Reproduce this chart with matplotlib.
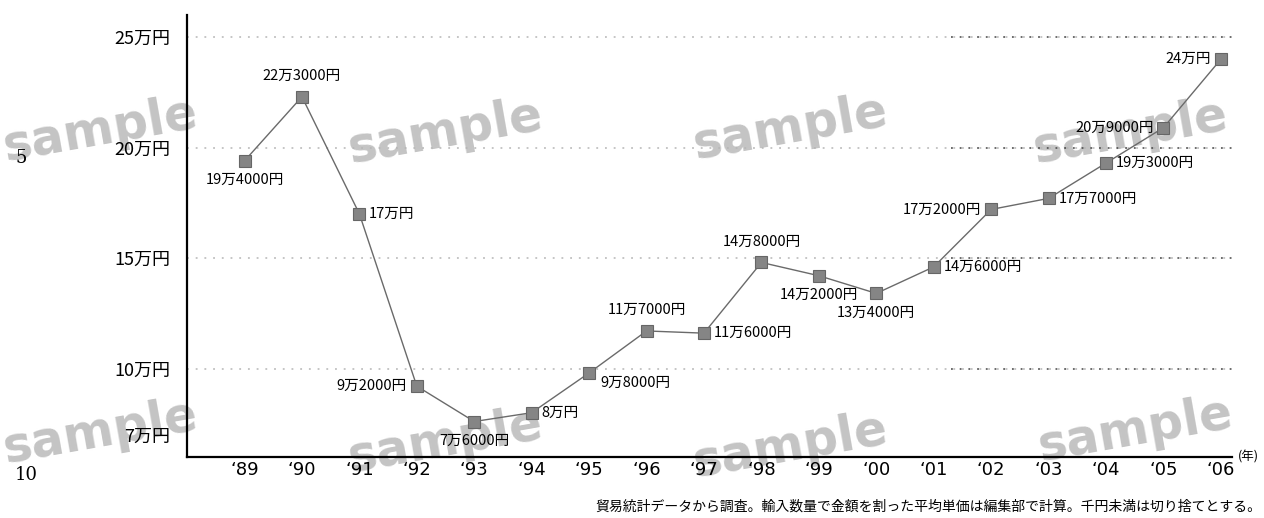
import matplotlib
matplotlib.use('Agg')
import matplotlib.pyplot as plt
import numpy as np

plt.rcParams['font.family'] = ['Noto Sans CJK JP', 'DejaVu Sans']

# average unit price per year (in 10,000 yen)
years = [1989, 1990, 1991, 1992, 1993, 1994, 1995, 1996, 1997,
         1998, 1999, 2000, 2001, 2002, 2003, 2004, 2005, 2006]
prices = [19.4, 22.3, 17.0, 9.2, 7.6, 8.0, 9.8, 11.7, 11.6,
          14.8, 14.2, 13.4, 14.6, 17.2, 17.7, 19.3, 20.9, 24.0]
price_labels = ['19万4000円', '22万3000円', '17万円', '9万2000円', '7万6000円',
                '8万円', '9万8000円', '11万7000円', '11万6000円', '14万8000円',
                '14万2000円', '13万4000円', '14万6000円', '17万2000円', '17万7000円',
                '19万3000円', '20万9000円', '24万円']
# where each value label sits relative to its marker
label_side = ['below', 'above', 'right', 'left', 'below', 'right', 'rbelow', 'above',
              'right', 'above', 'below', 'below', 'right', 'left', 'right',
              'right', 'left', 'left']
x_ticklabels = ['‘89', '‘90', '‘91', '‘92', '‘93', '‘94', '‘95', '‘96', '‘97',
                '‘98', '‘99', '‘00', '‘01', '‘02', '‘03', '‘04', '‘05', '‘06']
y_ticks = [7, 10, 15, 20, 25]
y_ticklabels = ['7万円', '10万円', '15万円', '20万円', '25万円']
grid_levels = [10, 15, 20, 25]

fig = plt.figure(figsize=(12.64, 5.18), dpi=100)
ax = fig.add_axes([0.148, 0.118, 0.827, 0.853])
ax.set_zorder(2)

# watermark, kept behind the axes
wm_pos = [(0.079, 0.748), (0.352, 0.744), (0.625, 0.752), (0.894, 0.744),
          (0.079, 0.165), (0.352, 0.148), (0.625, 0.138), (0.898, 0.170)]
for wx, wy in wm_pos:
    fig.text(wx, wy, 'sample', fontsize=35, fontweight='bold', color='#c4c4c4',
             rotation=10, ha='center', va='center', family='DejaVu Sans', zorder=1)

for g in grid_levels:
    ax.plot([1988, 2006.2], [g, g], color='#b5b5b5', lw=1.1,
            linestyle=(0, (1.2, 4.5)), zorder=1)
    ax.plot([2001.3, 2006.2], [g, g], color='#444444', lw=1.1,
            linestyle=(0, (1.2, 4.5)), zorder=1)

ax.plot(years, prices, color='#6a6a6a', lw=1.0, zorder=2)
ax.plot(years, prices, linestyle='none', marker='s', markersize=8.5,
        markerfacecolor='#858585', markeredgecolor='#666666', markeredgewidth=0.8,
        zorder=3)

fs = 10.5
for x, y, t, side in zip(years, prices, price_labels, label_side):
    if side == 'above':
        ax.annotate(t, (x, y), xytext=(0, 10), textcoords='offset points',
                    ha='center', va='bottom', fontsize=fs)
    elif side == 'below':
        ax.annotate(t, (x, y), xytext=(0, -9), textcoords='offset points',
                    ha='center', va='top', fontsize=fs)
    elif side == 'right':
        ax.annotate(t, (x, y), xytext=(7, 0), textcoords='offset points',
                    ha='left', va='center', fontsize=fs)
    elif side == 'left':
        ax.annotate(t, (x, y), xytext=(-7, 0), textcoords='offset points',
                    ha='right', va='center', fontsize=fs)
    else:
        ax.annotate(t, (x, y), xytext=(8, -7), textcoords='offset points',
                    ha='left', va='center', fontsize=fs)

ax.set_xlim(1988, 2006.2)
ax.set_ylim(6, 26)
ax.set_xticks(years)
ax.set_xticklabels(x_ticklabels, fontsize=13, family='DejaVu Sans')
ax.set_yticks(y_ticks)
ax.set_yticklabels(y_ticklabels, fontsize=13)
ax.tick_params(axis='both', length=0)
ax.tick_params(axis='x', pad=3)
ax.tick_params(axis='y', pad=12)
for s in ['top', 'right']:
    ax.spines[s].set_visible(False)
ax.spines['left'].set_linewidth(1.6)
ax.spines['bottom'].set_linewidth(1.6)
ax.set_facecolor('none')

fig.text(0.979, 0.118, '(年)', fontsize=9, ha='left', va='center')
fig.text(0.998, 0.022, '貿易統計データから調査。輸入数量で金額を割った平均単価は編集部で計算。千円未満は切り捨てとする。',
         fontsize=10, ha='right', va='center')

# line numbers in the margin
fig.text(0.012, 0.695, '5', fontsize=13, family='DejaVu Serif', va='center')
fig.text(0.012, 0.083, '10', fontsize=13, family='DejaVu Serif', va='center')

fig.savefig('out.png', dpi=100)
